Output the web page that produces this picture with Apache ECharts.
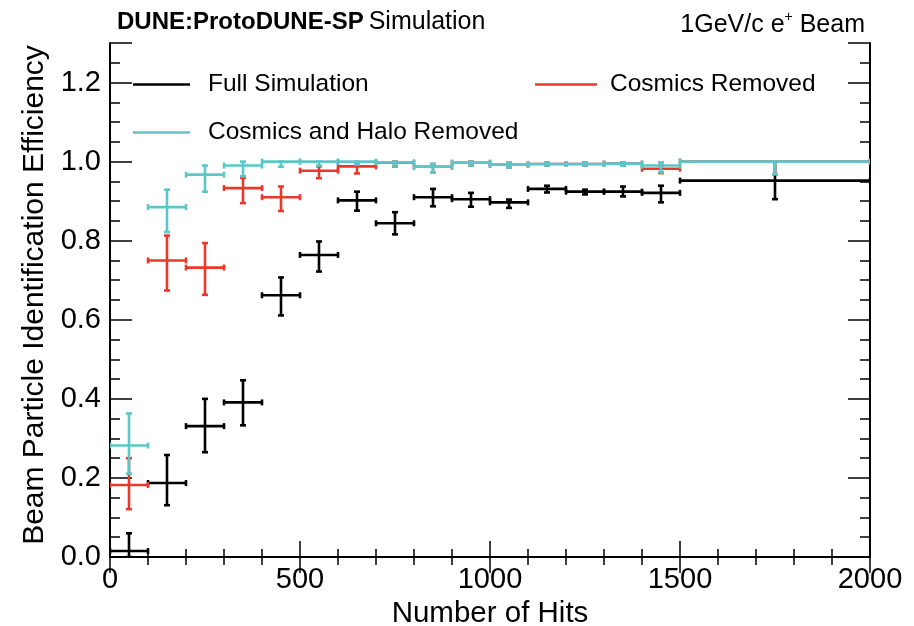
<!DOCTYPE html>
<html>
<head>
<meta charset="utf-8">
<script src="https://cdn.jsdelivr.net/npm/echarts@6/dist/echarts.min.js"></script>
<style>html,body{margin:0;padding:0;background:#fff}#c{width:914px;height:626px}</style>
</head>
<body>
<div id="c"></div>
<script>
// Bin edges (Number of Hits)
const binLow  = [0,100,200,300,400,500,600,700,800,900,1000,1100,1200,1300,1400,1500];
const binHigh = [100,200,300,400,500,600,700,800,900,1000,1100,1200,1300,1400,1500,2000];

// Full Simulation
const fullEff   = [0.015,0.187,0.331,0.391,0.662,0.764,0.902,0.844,0.910,0.905,0.897,0.931,0.924,0.924,0.921,0.952];
const fullLow   = [0.000,0.131,0.265,0.333,0.611,0.722,0.876,0.816,0.887,0.886,0.883,0.922,0.917,0.912,0.897,0.905];
const fullHigh  = [0.060,0.258,0.400,0.447,0.707,0.798,0.924,0.872,0.931,0.921,0.904,0.939,0.929,0.937,0.939,1.000];

// Cosmics Removed
const cosEff    = [0.182,0.750,0.732,0.933,0.910,0.977,0.988,0.997,0.987,0.997,0.992,0.994,0.994,0.995,0.982,1.000];
const cosLow    = [0.121,0.674,0.663,0.895,0.875,0.958,0.970,0.988,0.973,0.990,0.985,0.990,0.990,0.990,0.971,0.968];
const cosHigh   = [0.250,0.813,0.794,0.959,0.937,0.988,0.994,1.000,0.994,1.000,0.997,0.998,0.998,0.998,0.990,1.000];

// Cosmics and Halo Removed
const haloEff   = [0.282,0.885,0.967,0.990,1.000,1.000,1.000,0.998,0.987,0.997,0.992,0.994,0.994,0.995,0.990,1.000];
const haloLow   = [0.211,0.822,0.924,0.963,0.987,0.990,0.993,0.990,0.973,0.990,0.985,0.990,0.990,0.990,0.973,0.968];
const haloHigh  = [0.363,0.929,0.990,1.000,1.000,1.000,1.000,1.000,0.994,1.000,0.997,0.998,0.998,0.998,0.998,1.000];

const seriesNames = ['Full Simulation','Cosmics Removed','Cosmics and Halo Removed'];
const xTicks = [0,500,1000,1500,2000];
const yTicks = [0,0.2,0.4,0.6,0.8,1.0,1.2];

const FONT = '"Liberation Sans", Arial, Helvetica, sans-serif';
const colors = ['#000000','#e8392c','#5cc6c8'];

function build(eff, lo, hi) {
  return eff.map((v,i) => [binLow[i], binHigh[i], v, lo[i], hi[i]]);
}

function renderErr(color) {
  return function(params, api) {
    const x0 = api.value(0), x1 = api.value(1), y = api.value(2), ylo = api.value(3), yhi = api.value(4);
    const xc = (x0 + x1) / 2;
    const pL = api.coord([x0, y]), pR = api.coord([x1, y]);
    const pC = api.coord([xc, y]);
    const pLo = api.coord([xc, ylo]), pHi = api.coord([xc, yhi]);
    const st = { stroke: color, lineWidth: 2.6, fill: null };
    const cap = 3;
    const ch = [
      {type:'line', shape:{x1:pL[0], y1:pL[1], x2:pR[0], y2:pR[1]}, style: st},
      {type:'line', shape:{x1:pL[0], y1:pL[1]-cap, x2:pL[0], y2:pL[1]+cap}, style: st},
      {type:'line', shape:{x1:pR[0], y1:pR[1]-cap, x2:pR[0], y2:pR[1]+cap}, style: st},
      {type:'line', shape:{x1:pC[0], y1:pLo[1], x2:pC[0], y2:pHi[1]}, style: st},
      {type:'line', shape:{x1:pC[0]-cap, y1:pLo[1], x2:pC[0]+cap, y2:pLo[1]}, style: st},
      {type:'line', shape:{x1:pC[0]-cap, y1:pHi[1], x2:pC[0]+cap, y2:pHi[1]}, style: st}
    ];
    return {type:'group', children: ch};
  };
}

const chart = echarts.init(document.getElementById('c'), null, {renderer:'canvas'});

const axisLineStyle = {show:true, lineStyle:{color:'#000', width:2}};
const yMax = 1.3;
const legendText = { fontFamily: FONT, fontSize: 24.5, color: '#000', padding: [0,0,0,13] };

const option = {
  backgroundColor: '#fff',
  animation: false,
  textStyle: { fontFamily: FONT },
  title: [
    { text: '{b|DUNE:ProtoDUNE-SP} {n|Simulation}', left: 112, top: 5,
      textStyle: { fontWeight: 'normal', rich: {
        b: { fontFamily: FONT, fontWeight: 'bold', fontSize: 24, color: '#000' },
        n: { fontFamily: FONT, fontWeight: 'normal', fontSize: 25, color: '#000' } } } },
    { text: '{n|1GeV/c e}{s|+}{n| Beam}', right: 44, top: 5,
      textStyle: { fontWeight: 'normal', rich: {
        n: { fontFamily: FONT, fontWeight: 'normal', fontSize: 25, color: '#000', lineHeight: 28, verticalAlign: 'bottom' },
        s: { fontFamily: FONT, fontWeight: 'normal', fontSize: 14, color: '#000', lineHeight: 28, verticalAlign: 'top' } } } }
  ],
  legend: [
    { data: [{name: seriesNames[0], icon: 'rect'}], left: 133, top: 72, padding: 0,
      itemWidth: 57, itemHeight: 2.5, itemGap: 0, textStyle: legendText },
    { data: [{name: seriesNames[1], icon: 'rect'}], left: 535, top: 72, padding: 0,
      itemWidth: 62, itemHeight: 2.5, itemGap: 0,
      textStyle: Object.assign({}, legendText, { padding: [0,0,0,8] }) },
    { data: [{name: seriesNames[2], icon: 'rect'}], left: 133, top: 120, padding: 0,
      itemWidth: 57, itemHeight: 2.5, itemGap: 0, textStyle: legendText }
  ],
  grid: { left: 110, right: 44, top: 43, bottom: 69, containLabel: false, outerBoundsMode: 'none' },
  xAxis: [
    { type: 'value', position: 'bottom', min: 0, max: 2000, interval: 500,
      name: 'Number of Hits', nameLocation: 'middle', nameGap: 31,
      nameTextStyle: { fontFamily: FONT, fontSize: 29.5, color: '#000' },
      axisLine: axisLineStyle,
      axisTick: { show: true, inside: true, length: 16, lineStyle: {color:'#000', width: 1.5} },
      minorTick: { show: true, splitNumber: 5, length: 8, lineStyle: {color:'#000', width: 1.5} },
      splitLine: { show: false },
      axisLabel: { fontFamily: FONT, fontSize: 29, color: '#000', margin: 8,
        customValues: xTicks, formatter: v => String(Math.round(v)) } },
    { type: 'value', position: 'top', min: 0, max: 2000, interval: 500,
      axisLine: axisLineStyle,
      axisTick: { show: true, inside: true, length: 16, lineStyle: {color:'#000', width: 1.5} },
      minorTick: { show: true, splitNumber: 5, length: 8, lineStyle: {color:'#000', width: 1.5} },
      splitLine: { show: false }, axisLabel: { show: false } }
  ],
  yAxis: [
    { type: 'value', position: 'left', min: 0, max: yMax, interval: 0.2,
      name: 'Beam Particle Identification Efficiency', nameLocation: 'middle', nameGap: 48,
      nameTextStyle: { fontFamily: FONT, fontSize: 30, color: '#000', padding: [0,0,0,10] },
      axisLine: axisLineStyle,
      axisTick: { show: true, inside: true, length: 22, lineStyle: {color:'#000', width: 1.5} },
      splitLine: { show: false },
      axisLabel: { fontFamily: FONT, fontSize: 29, color: '#000', margin: 9,
        customValues: yTicks,
        formatter: v => Number(v).toFixed(1) } },
    { type: 'value', position: 'left', min: 0, max: yMax, interval: 0.05,
      axisLine: { show: false },
      axisTick: { show: true, inside: true, length: 10, lineStyle: {color:'#000', width: 1.5} },
      splitLine: { show: false }, axisLabel: { show: false } },
    { type: 'value', position: 'right', min: 0, max: yMax, interval: 0.2,
      axisLine: axisLineStyle,
      axisTick: { show: true, inside: true, length: 22, lineStyle: {color:'#000', width: 1.5} },
      splitLine: { show: false }, axisLabel: { show: false } },
    { type: 'value', position: 'right', min: 0, max: yMax, interval: 0.05,
      axisLine: { show: false },
      axisTick: { show: true, inside: true, length: 10, lineStyle: {color:'#000', width: 1.5} },
      splitLine: { show: false }, axisLabel: { show: false } }
  ],
  series: [
    { name: seriesNames[0], type: 'custom', xAxisIndex: 0, yAxisIndex: 0,
      itemStyle: { color: colors[0] }, clip: true,
      encode: { x: [0,1], y: [2,3,4] },
      renderItem: renderErr(colors[0]), data: build(fullEff, fullLow, fullHigh) },
    { name: seriesNames[1], type: 'custom', xAxisIndex: 0, yAxisIndex: 0,
      itemStyle: { color: colors[1] }, clip: true,
      encode: { x: [0,1], y: [2,3,4] },
      renderItem: renderErr(colors[1]), data: build(cosEff, cosLow, cosHigh) },
    { name: seriesNames[2], type: 'custom', xAxisIndex: 0, yAxisIndex: 0,
      itemStyle: { color: colors[2] }, clip: true,
      encode: { x: [0,1], y: [2,3,4] },
      renderItem: renderErr(colors[2]), data: build(haloEff, haloLow, haloHigh) }
  ]
};
chart.setOption(option);
</script>
</body>
</html>
